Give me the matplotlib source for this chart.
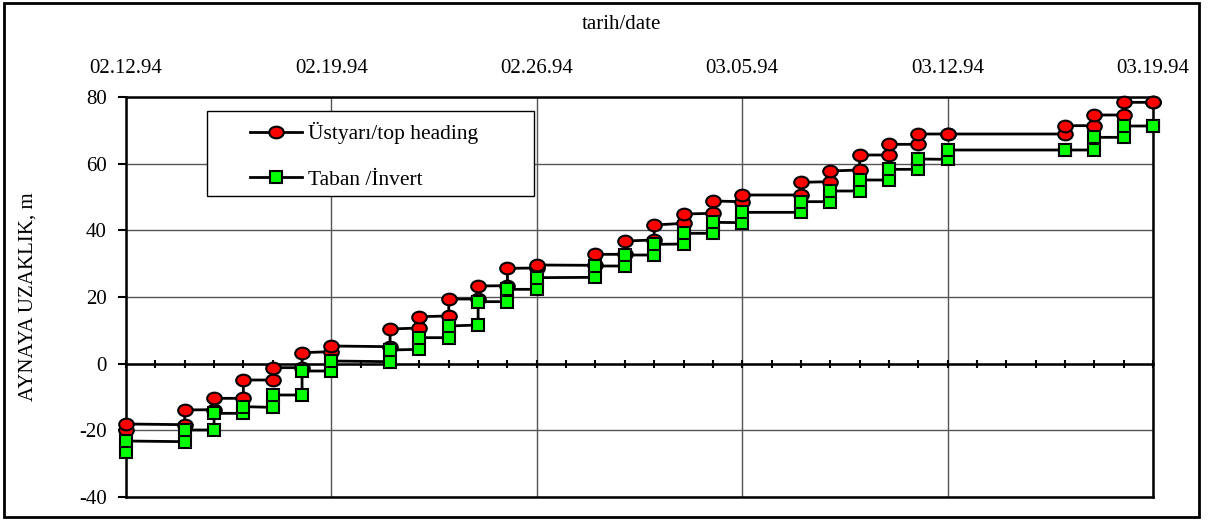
import matplotlib
matplotlib.use('Agg')
import matplotlib.pyplot as plt
import matplotlib.transforms as mtransforms
from matplotlib.patches import Rectangle
from matplotlib.path import Path
import numpy as np

# days counted from 02.12.94; each day has the reading before and after the advance
days = [0, 2, 3, 4, 5, 6, 7, 9, 10, 11, 12, 13, 14, 16, 17, 18, 19, 20, 21,
        23, 24, 25, 26, 27, 28, 32, 33, 34, 35]

top_low = [-19.9, -18.3, -13.8, -10.4, -4.9, -1.2, 3.6, 5.1, 10.7, 14.3, 19.4,
           23.4, 28.7, 29.5, 32.8, 37.1, 42.1, 45.1, 48.6, 50.6, 54.6, 58.1,
           62.6, 65.8, 68.9, 68.9, 71.4, 74.6, 78.4]
top_high = [-18.1, -13.9, -10.4, -4.9, -1.2, 3.3, 5.3, 10.4, 14.1, 19.4, 23.3,
            28.6, 29.6, 32.8, 36.8, 41.6, 44.9, 48.8, 50.6, 54.4, 57.8, 62.6,
            65.8, 68.9, 68.9, 71.4, 74.6, 78.4, 78.4]

inv_low = [-26.4, -23.4, -19.9, -14.9, -13.1, -9.4, -2.2, 0.6, 4.3, 7.8, 11.6,
           18.6, 22.3, 25.9, 29.3, 32.6, 35.9, 39.1, 42.3, 45.4, 48.6, 51.8,
           55.1, 58.3, 61.3, 64.1, 64.1, 67.9, 71.3]
inv_high = [-23.2, -19.9, -14.9, -12.9, -9.4, -2.2, 0.8, 4.1, 7.8, 11.3, 18.6,
            22.3, 25.8, 29.3, 32.6, 35.8, 39.1, 42.4, 45.4, 48.6, 51.8, 55.1,
            58.3, 61.4, 64.1, 64.1, 67.9, 71.3, 71.3]

week_days = [0, 7, 14, 21, 28, 35]
week_labels = ['02.12.94', '02.19.94', '02.26.94', '03.05.94', '03.12.94', '03.19.94']

W, H = 1216, 520


def stepPoints(d, low, high):
    # vertical jump on each day, flat line between days
    x = []
    y = []
    for di, a, b in zip(d, low, high):
        x += [di, di]
        y += [a, b]
    return x, y


plt.rcParams['font.family'] = 'serif'
plt.rcParams['font.serif'] = ['Liberation Serif', 'DejaVu Serif']
plt.rcParams['font.size'] = 15
plt.rcParams['axes.unicode_minus'] = False

fig = plt.figure(figsize=(W / 100, H / 100), dpi=100)
ax = fig.add_axes([126 / W, 1 - 497 / H, (1153 - 126) / W, 400 / H])

ax.set_xlim(0, 35)
ax.set_ylim(-40, 80)
ax.set_xticks(week_days)
ax.set_xticks(np.arange(36), minor=True)
ax.set_yticks(np.arange(-40, 81, 20))
ax.grid(True, which='major', color='#555555', lw=1)

ax.spines['bottom'].set_position(('data', 0))
for s in ax.spines.values():
    s.set_linewidth(1.8)
ax.axhline(-40, color='k', lw=1.8, clip_on=False)
ax.tick_params(axis='x', which='both', direction='inout', length=6, width=1.5,
               labelbottom=False)
ax.tick_params(axis='y', direction='out', length=6, width=1.5, pad=8)

top = ax.secondary_xaxis('top')
top.set_xticks(week_days, week_labels)
top.tick_params(length=0, pad=14)
top.spines['top'].set_visible(False)

fig.text(621 / W, 1 - 24 / H, 'tarih/date', ha='center', va='center')
ax.set_ylabel('AYNAYA UZAKLIK, m')
ax.yaxis.set_label_coords(-0.086, 0.5)

# slightly flattened circle marker
ellipse = Path.unit_circle().transformed(mtransforms.Affine2D().scale(1.0, 0.8))

x, y = stepPoints(days, top_low, top_high)
ax.plot(x, y, color='k', lw=2, marker=ellipse, ms=10.5, mfc='#ff0000', mec='k',
        mew=1.5, label='Üstyarı/top heading', zorder=3, clip_on=False)
x, y = stepPoints(days, inv_low, inv_high)
ax.plot(x, y, color='k', lw=2, marker='s', ms=8.5, mfc='#00ff00', mec='k',
        mew=1.5, label='Taban /İnvert', zorder=3, clip_on=False)

ax.add_patch(Rectangle((207 / W, 1 - 196 / H), 327 / W, 85 / H, transform=fig.transFigure,
                       facecolor='white', edgecolor='k', lw=1, zorder=4))
ax.legend(loc='upper left', bbox_to_anchor=(250 / W, 1 - 122 / H),
          bbox_transform=fig.transFigure, frameon=False, borderpad=0, fontsize=15.5,
          borderaxespad=0, handlelength=2.4, handletextpad=0.3, labelspacing=1.2)

fig.patches.append(Rectangle((4 / W, 3 / H), 1195 / W, 514 / H, transform=fig.transFigure,
                             fill=False, edgecolor='k', lw=2))

fig.savefig('out.png', dpi=100)
